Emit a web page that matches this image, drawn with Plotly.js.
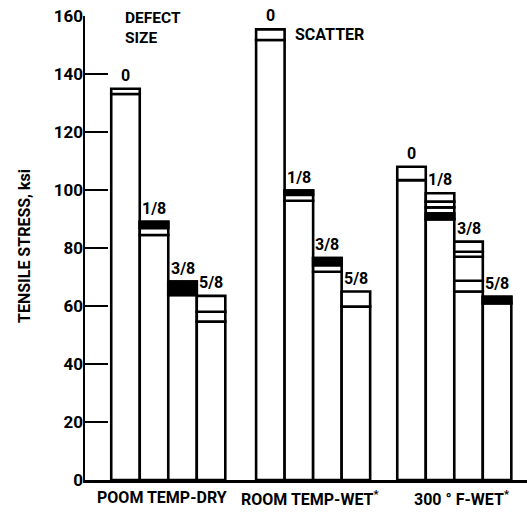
<!DOCTYPE html>
<html>
<head>
<meta charset="utf-8">
<script src="https://cdn.plot.ly/plotly-3.0.1.min.js"></script>
<style>html,body{margin:0;padding:0;background:#fff;}#chart{width:527px;height:516px;}</style>
</head>
<body>
<div id="chart"></div>
<script>
// ---- data ----
var conditions = ["POOM TEMP-DRY", "ROOM TEMP-WET<sup>*</sup>", "300 ° F-WET<sup>*</sup>"];
var defectSizes = ["0", "1/8", "3/8", "5/8"];

// lower / upper bound of the scatter band (ksi), per defect size
var dryLow  = [133.1, 84.5, 63.8, 54.6];
var dryHigh = [134.9, 89.0, 68.4, 63.5];
var wetLow  = [151.7, 96.3, 71.8, 59.8];
var wetHigh = [155.4, 99.8, 76.5, 65.0];
var hotLow  = [103.4, 89.9, 65.0, 61.0];
var hotHigh = [108.0, 98.9, 82.2, 63.2];

// extra lines drawn inside the scatter bands
var dryInner = [[], [], [], [58.0]];
var wetInner = [[], [], [], []];
var hotInner = [[], [96.0, 94.0], [78.7, 77.0, 68.7], []];

// solid black parts of the scatter bands [from, to]
var dryDark = [null, [86.8, 89.0], [63.8, 68.4], null];
var wetDark = [null, [98.3, 99.8], [74.0, 76.5], null];
var hotDark = [null, [89.9, 92.0], null, [61.0, 63.2]];

var yTicks = [0, 20, 40, 60, 80, 100, 120, 140, 160];

// ---- layout helpers ----
var groupStart = [0.92, 6.0, 10.95];
var lows = [dryLow, wetLow, hotLow];
var highs = [dryHigh, wetHigh, hotHigh];
var inners = [dryInner, wetInner, hotInner];
var darks = [dryDark, wetDark, hotDark];

var FONT = "Roboto, Liberation Sans Narrow, DejaVu Sans, sans-serif";
function f(size) { return {family: FONT, size: size, color: '#000', weight: 'bold'}; }

var baseX = [], baseY = [];
var segX = [], segB = [], segY = [];
var darkX = [], darkB = [], darkY = [];
var annotations = [];

for (var g = 0; g < 3; g++) {
  for (var i = 0; i < 4; i++) {
    var xc = groupStart[g] + i + 0.5;
    var lo = lows[g][i], hi = highs[g][i];
    baseX.push(xc); baseY.push(lo);
    var bounds = [lo].concat(inners[g][i]).concat([hi]).sort(function(a,b){return a-b;});
    for (var k = 0; k < bounds.length - 1; k++) {
      segX.push(xc); segB.push(bounds[k]); segY.push(bounds[k+1] - bounds[k]);
    }
    var d = darks[g][i];
    if (d) { darkX.push(xc); darkB.push(d[0]); darkY.push(d[1] - d[0]); }
    annotations.push({
      x: xc, y: hi, xref: 'x', yref: 'y', text: defectSizes[i],
      showarrow: false, yanchor: 'bottom', yshift: 2, font: f(16)
    });
  }
}

var catShift = [-6, -3, 8];
for (var g2 = 0; g2 < 3; g2++) {
  annotations.push({
    x: groupStart[g2] + 2, y: 0, xref: 'x', yref: 'paper', text: conditions[g2],
    showarrow: false, yanchor: 'top', yshift: -6, xshift: catShift[g2], font: f(16)
  });
}

annotations.push({
  x: (123 - 85) / 442, y: (480 - 28) / 464, xref: 'paper', yref: 'paper',
  text: "DEFECT<br>SIZE", align: 'left', showarrow: false,
  xanchor: 'left', yanchor: 'middle', font: f(15.5)
});
annotations.push({
  x: (293 - 85) / 442, y: (480 - 34) / 464, xref: 'paper', yref: 'paper',
  text: "SCATTER", showarrow: false, xanchor: 'left', yanchor: 'middle', font: f(16)
});
annotations.push({
  x: (24 - 85) / 442, y: (480 - 246) / 464, xref: 'paper', yref: 'paper',
  text: "TENSILE STRESS, ksi", textangle: -90, showarrow: false,
  xanchor: 'center', yanchor: 'middle', font: f(16)
});

var outline = {color: '#000', width: 2.6};
var traces = [
  {type: 'bar', x: baseX, y: baseY, base: 0, width: 1,
   marker: {color: '#fff', line: outline}, hoverinfo: 'skip', showlegend: false},
  {type: 'bar', x: segX, y: segY, base: segB, width: 1,
   marker: {color: '#fff', line: outline}, hoverinfo: 'skip', showlegend: false},
  {type: 'bar', x: darkX, y: darkY, base: darkB, width: 1,
   marker: {color: '#000', line: outline}, hoverinfo: 'skip', showlegend: false}
];

var layout = {
  width: 527, height: 516,
  margin: {l: 85, r: 0, t: 16, b: 36},
  paper_bgcolor: '#fff', plot_bgcolor: '#fff',
  barmode: 'overlay',
  showlegend: false,
  xaxis: {range: [0, 15.5], showgrid: false, zeroline: false, showline: true,
          linecolor: '#000', linewidth: 2.5, showticklabels: false, ticks: ''},
  yaxis: {range: [0, 160], showgrid: false, zeroline: false, showline: true,
          linecolor: '#000', linewidth: 2.5, tickvals: yTicks, ticks: 'inside',
          ticklen: 23, tickwidth: 2, tickcolor: '#000', tickfont: f(17),
          ticklabelstandoff: -4},
  annotations: annotations
};

Plotly.newPlot('chart', traces, layout, {staticPlot: true, displayModeBar: false});
</script>
</body>
</html>
